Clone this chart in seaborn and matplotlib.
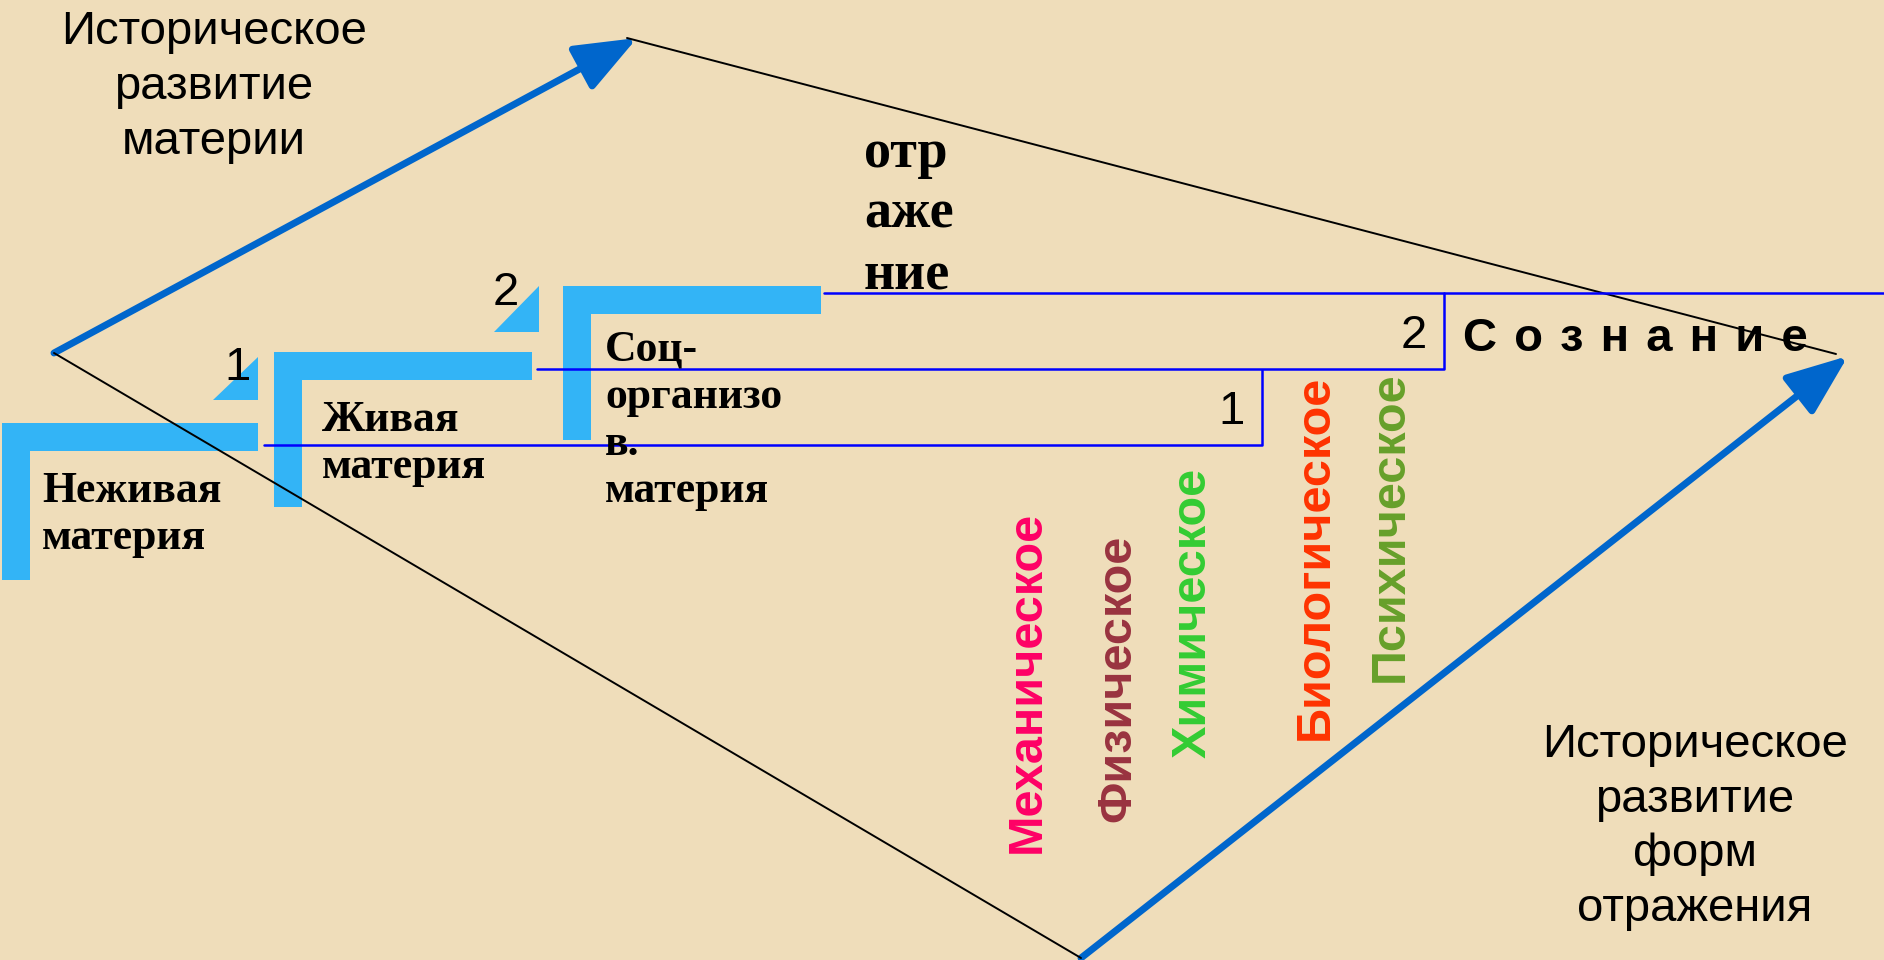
import seaborn as sns
import matplotlib.pyplot as plt
from matplotlib.patches import FancyArrowPatch, Polygon

# --- тексты схемы ---
matter_levels = ["Неживая\nматерия", "Живая\nматерия", "Соц-\nорганизо\nв.\nматерия"]
reflection_forms = ["Механическое", "Физическое", "Химическое", "Биологическое", "Психическое"]
form_colors = ["#FF0066", "#993340", "#33CC33", "#FF3300", "#66A02A"]
jump_labels = ["1", "2"]
title_left = "Историческое\nразвитие\nматерии"
title_right = "Историческое\nразвитие\nформ\nотражения"
reflection_word = "отр\nаже\nние"
consciousness = "\u200a ".join("Сознание")

# --- разметка (пиксели картинки) ---
L_boxes = [(2, 423, 258, 580), (274, 352, 532, 507), (563, 286, 821, 440)]
L_text = [(42, 502), (322, 431), (605, 361)]
L_thick = 28
tri_pts = [[(213, 400), (258, 400), (258, 357)], [(494, 332), (539, 332), (539, 286)]]
tri_lab = [(237, 380), (506, 305)]
steps = [([264, 1262, 1262], [445, 445, 370]),
         ([537, 1444, 1444], [369, 369, 293]),
         ([824, 1884], [293, 293])]
step_lab = [(1232, 424), (1414, 348)]
form_pos = [(1027, 853), (1118, 822), (1193, 758), (1315, 740), (1390, 682)]

BLUE_L = "#33B4F6"
ARROW = "#0066CC"
SANS = ["Liberation Sans", "DejaVu Sans"]
SERIF = ["Liberation Serif", "DejaVu Serif"]

sns.set_theme(style="white")
plt.rcParams["font.family"] = SANS

fig = plt.figure(figsize=(18.84, 9.6), dpi=100, facecolor="#EFDDBA")
ax = fig.add_axes([0, 0, 1, 1])
ax.set_xlim(0, 1884)
ax.set_ylim(960, 0)
ax.set_facecolor("#EFDDBA")
ax.axis("off")


def lines_at(x, y0, text, gap, **kw):
    for i, line in enumerate(text.split("\n")):
        ax.text(x, y0 + i * gap, line, va="baseline", **kw)


# большой четырёхугольник
sns.lineplot(x=[627, 1836], y=[38, 354], color="black", lw=1.4, ax=ax, sort=False, estimator=None)
sns.lineplot(x=[54, 1081], y=[353, 958], color="black", lw=1.4, ax=ax, sort=False, estimator=None)
for a, b in [((54, 353), (637, 38)), ((1081, 958), (1848, 356))]:
    ax.add_patch(FancyArrowPatch(a, b, arrowstyle="-|>,head_length=3.8,head_width=1.5",
                                 mutation_scale=10, lw=5, color=ARROW,
                                 shrinkA=0, shrinkB=0))

# ступени
for xs, ys in steps:
    sns.lineplot(x=xs, y=ys, color="#0000FF", lw=1.8, ax=ax, sort=False, estimator=None)

# уголки уровней материи
for (x0, y0, x1, yb), (tx, ty), txt in zip(L_boxes, L_text, matter_levels):
    t = L_thick
    ax.add_patch(Polygon([(x0, y0), (x1, y0), (x1, y0 + t), (x0 + t, y0 + t),
                          (x0 + t, yb), (x0, yb)], closed=True, color=BLUE_L, lw=0))
    lines_at(tx, ty, txt, 47, family=SERIF, fontweight="bold", fontsize=31.5, color="black")

for pts, (lx, ly), lab in zip(tri_pts, tri_lab, jump_labels):
    ax.add_patch(Polygon(pts, closed=True, color=BLUE_L, lw=0))
    ax.text(lx, ly, lab, ha="center", va="baseline", fontsize=34, color="black")

for (lx, ly), lab in zip(step_lab, jump_labels):
    ax.text(lx, ly, lab, ha="center", va="baseline", fontsize=34, color="black")

# формы отражения
for (fx, fy), txt, c in zip(form_pos, reflection_forms, form_colors):
    ax.text(fx, fy, txt, rotation=90, ha="center", va="bottom",
            fontsize=35, fontweight="bold", color=c)

lines_at(864, 167, reflection_word, 61, family=SERIF, fontweight="bold", fontsize=39, color="black")
ax.text(1463, 351, consciousness, ha="left", va="baseline", fontsize=34,
        fontweight="bold", color="black")

ax.text(214, 87, title_left, ha="center", va="center", fontsize=34,
        linespacing=1.32, color="black")
ax.text(1695, 827, title_right, ha="center", va="center", fontsize=34,
        linespacing=1.32, color="black")

fig.savefig("out.png", dpi=100, facecolor=fig.get_facecolor())
